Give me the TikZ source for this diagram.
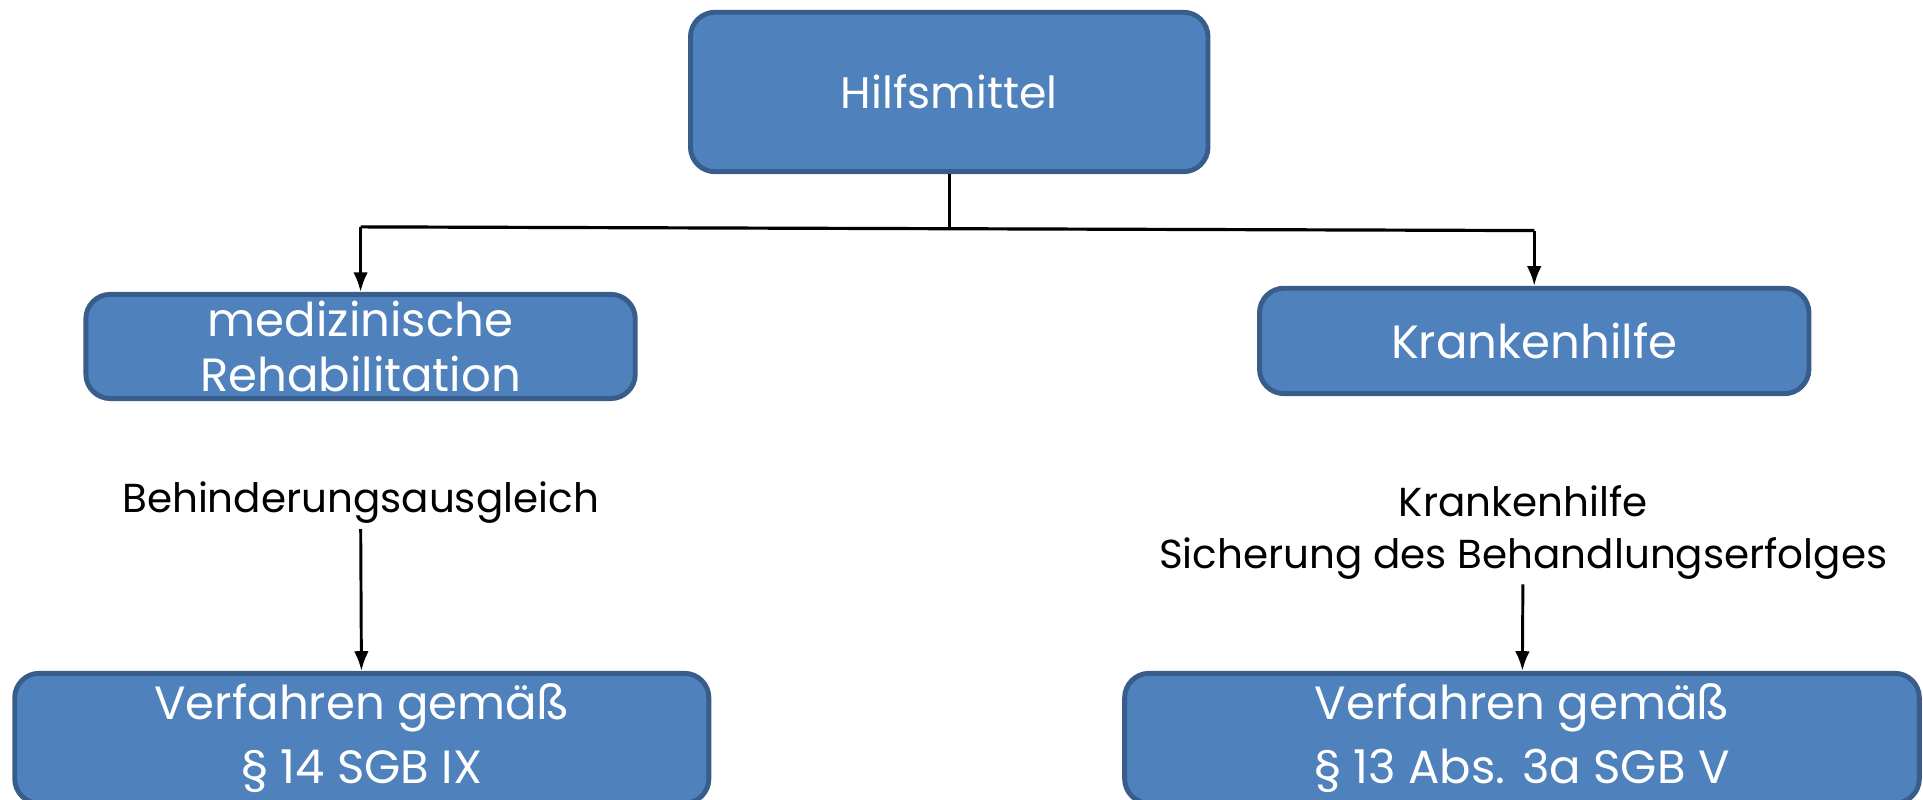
\documentclass[tikz,border=0pt]{standalone}
\usepackage{fontspec}
\setmainfont{Poppins}
\usetikzlibrary{arrows.meta}

\definecolor{kastenblau}{HTML}{4F81BD}
\definecolor{kastenrand}{HTML}{385D8A}

\tikzset{
  kasten/.style={draw=kastenrand, fill=kastenblau, line width=2pt,
    rounded corners=10pt, text=white, align=center, inner sep=0pt},
  notiz/.style={align=center, inner sep=2pt, font=\fontsize{16.5}{21}\selectfont},
  linie/.style={line width=1.3pt},
  pfeil/.style={line width=1.2pt, -{Latex[length=8pt,width=6pt]}}
}

\begin{document}
\begin{tikzpicture}[x=0.5pt,y=-0.5pt]
\useasboundingbox (0,0) rectangle (1568,652);

\node[kasten, minimum width=211pt, minimum height=65pt,
  font=\fontsize{18}{22}\selectfont] (hilf) at (774,75) {Hilfsmittel};

\node[kasten, minimum width=224pt, minimum height=42.5pt,
  font=\fontsize{19}{22.5}\selectfont] (reha) at (294,282.5) {medizinische\\Rehabilitation};
\node[kasten, minimum width=224pt, minimum height=43pt,
  font=\fontsize{19}{23}\selectfont] (kh) at (1251,278) {Krankenhilfe};

\node[notiz] (ausgl) at (294,410) {Behinderungsausgleich};
\node[notiz] (erfolg) at (1242,434) {Krankenhilfe\\Sicherung des Behandlungserfolges};

\node[kasten, minimum width=283pt, minimum height=53pt,
  font=\fontsize{19}{26}\selectfont] (sgbix) at (295,602) {Verfahren gemäß\\§ 14 SGB IX};
\node[kasten, minimum width=324pt, minimum height=53pt,
  font=\fontsize{19}{26}\selectfont] (sgbv) at (1241,602) {Verfahren gemäß\\§ 13 Abs. 3a SGB V};

\coordinate (abzw) at (774,186.5);
\coordinate (links) at (294,185);
\coordinate (rechts) at (1251,188);

\draw[linie] (hilf) -- (abzw);
\draw[linie] (links) -- (abzw) -- (rechts);
\draw[pfeil] (links) -- (reha);
\draw[pfeil] (rechts) -- (kh);
\draw[pfeil] (ausgl) -- (sgbix);
\draw[pfeil] (erfolg) -- (sgbv);

\end{tikzpicture}
\end{document}
